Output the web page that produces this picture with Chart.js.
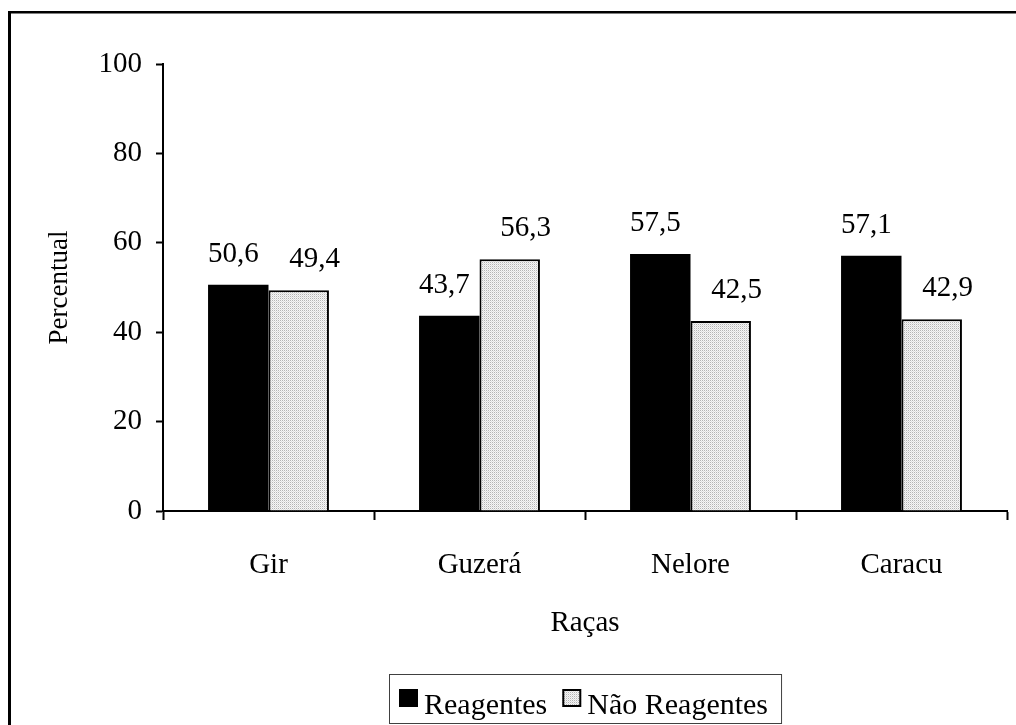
<!DOCTYPE html>
<html>
<head>
<meta charset="utf-8">
<script src="https://cdn.jsdelivr.net/npm/chart.js@4/dist/chart.umd.min.js"></script>
<style>
  html, body { margin: 0; padding: 0; background: #fff; }
  canvas { display: block; }
</style>
</head>
<body>
<canvas id="chart" width="1016" height="725"></canvas>
<script>
// Categories and series values
const categories = ['Gir', 'Guzerá', 'Nelore', 'Caracu'];
const reagentes = [50.6, 43.7, 57.5, 57.1];
const naoReagentes = [49.4, 56.3, 42.5, 42.9];
const seriesNames = ['Reagentes', 'Não Reagentes'];
const yTicks = [0, 20, 40, 60, 80, 100];

const FONT = "'Liberation Serif', 'Times New Roman', serif";

// Fine dotted fill used for the second series
function makeDotPattern() {
  const c = document.createElement('canvas');
  c.width = 2; c.height = 2;
  const g = c.getContext('2d');
  g.fillStyle = '#f6f6f6';
  g.fillRect(0, 0, 2, 2);
  g.fillStyle = '#b4b4b4';
  g.fillRect(0, 0, 1, 1);
  g.fillStyle = '#dedede';
  g.fillRect(1, 1, 1, 1);
  return g.createPattern(c, 'repeat');
}
const dots = makeDotPattern();

// Outer frame (top and left edges)
const framePlugin = {
  id: 'frame',
  beforeDraw(chart) {
    const ctx = chart.ctx;
    ctx.save();
    ctx.fillStyle = '#fff';
    ctx.fillRect(0, 0, chart.width, chart.height);
    ctx.fillStyle = '#000';
    ctx.fillRect(8, 11, chart.width - 8, 2.5);
    ctx.fillRect(8, 11, 3, chart.height - 11);
    ctx.restore();
  }
};

// Value labels above each bar (comma decimal separator)
const valueLabels = {
  id: 'valueLabels',
  afterDatasetsDraw(chart) {
    const ctx = chart.ctx;
    ctx.save();
    ctx.font = '29px ' + FONT;
    ctx.fillStyle = '#000';
    ctx.textAlign = 'center';
    ctx.textBaseline = 'alphabetic';
    const shift = [-5, 16];
    chart.data.datasets.forEach((ds, i) => {
      chart.getDatasetMeta(i).data.forEach((bar, j) => {
        const txt = ds.data[j].toFixed(1).replace('.', ',');
        ctx.fillText(txt, bar.x + shift[i], bar.y - 23);
      });
    });
    ctx.restore();
  }
};

// Boxed legend under the axis title
const boxLegend = {
  id: 'boxLegend',
  afterDraw(chart) {
    const ctx = chart.ctx;
    const area = chart.chartArea;
    ctx.save();
    ctx.font = '30px ' + FONT;
    const sq = 19, padL = 10, padR = 13, gapT = 6, gapItem = 15;
    const items = chart.data.datasets.map(ds => ({
      label: ds.label, fill: ds.backgroundColor, border: ds.borderWidth > 0,
      w: ctx.measureText(ds.label).width
    }));
    let total = padL + padR;
    items.forEach((it, k) => { total += sq + gapT + it.w + (k ? gapItem : 0); });
    const cx = (area.left + area.right) / 2;
    const x0 = Math.round(cx - total / 2);
    const y0 = 674, h = 49;
    ctx.strokeStyle = '#404040';
    ctx.lineWidth = 1;
    ctx.strokeRect(x0 + 0.5, y0 + 0.5, total, h);
    let x = x0 + padL;
    ctx.textBaseline = 'alphabetic';
    items.forEach((it, k) => {
      if (k) x += gapItem;
      ctx.fillStyle = it.fill;
      ctx.fillRect(x, 689, sq, 18);
      if (it.border) {
        ctx.strokeStyle = '#000';
        ctx.lineWidth = 2;
        ctx.strokeRect(x + 1, 690, sq - 2, 16);
      }
      x += sq + gapT;
      ctx.fillStyle = '#000';
      ctx.fillText(it.label, x, 714);
      x += it.w;
    });
    ctx.restore();
  }
};

Chart.defaults.color = '#000';
Chart.defaults.font.family = FONT;

new Chart(document.getElementById('chart'), {
  type: 'bar',
  data: {
    labels: categories,
    datasets: [
      {
        label: seriesNames[0],
        data: reagentes,
        backgroundColor: '#000',
        borderWidth: 0,
        categoryPercentage: 0.573,
        barPercentage: 1.0
      },
      {
        label: seriesNames[1],
        data: naoReagentes,
        backgroundColor: dots,
        borderColor: '#000',
        borderWidth: 2,
        categoryPercentage: 0.573,
        barPercentage: 1.0
      }
    ]
  },
  options: {
    responsive: false,
    animation: false,
    layout: { padding: { left: 0, right: 9, top: 64, bottom: 0 } },
    plugins: {
      legend: { display: false },
      tooltip: { enabled: false }
    },
    scales: {
      x: {
        grid: {
          offset: true,
          drawOnChartArea: false,
          drawTicks: true,
          tickLength: 9,
          tickWidth: 2,
          tickColor: '#000'
        },
        border: { display: true, color: '#000', width: 2 },
        ticks: { font: { size: 29 }, padding: 28, color: '#000' },
        title: {
          display: true,
          text: 'Raças',
          font: { size: 29 },
          color: '#000',
          padding: { top: 0, bottom: 84 }
        },
        afterFit(scale) { scale.height = 214; }
      },
      y: {
        min: 0,
        max: 100,
        afterBuildTicks(scale) { scale.ticks = yTicks.map(v => ({ value: v })); },
        grid: {
          drawOnChartArea: false,
          drawTicks: true,
          tickLength: 7,
          tickWidth: 2,
          tickColor: '#000'
        },
        border: { display: true, color: '#000', width: 2 },
        ticks: { font: { size: 29 }, padding: 14, color: '#000' },
        title: {
          display: true,
          text: 'Percentual',
          font: { size: 27 },
          color: '#000',
          padding: { top: 44, bottom: 0 }
        },
        afterFit(scale) { scale.width = 163; }
      }
    }
  },
  plugins: [framePlugin, valueLabels, boxLegend]
});
</script>
</body>
</html>
